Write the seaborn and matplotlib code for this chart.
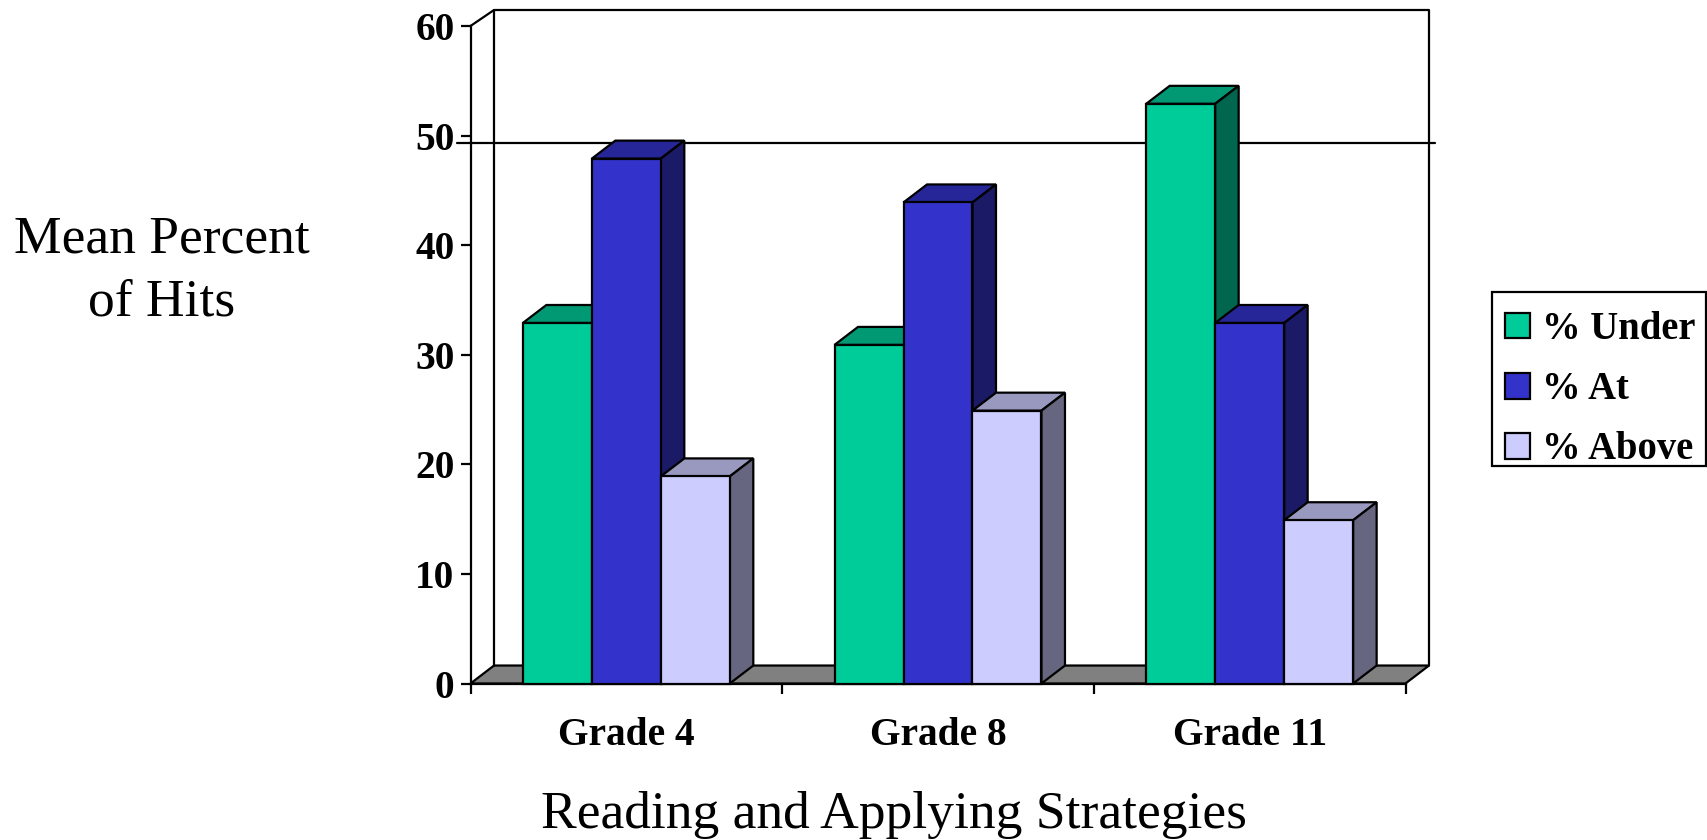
import matplotlib
matplotlib.use('Agg')
import matplotlib.pyplot as plt
from matplotlib.patches import Polygon, Rectangle
import seaborn as sns
import pandas as pd

grades = ['Grade 4', 'Grade 8', 'Grade 11']
groups = ['% Under', '% At', '% Above']
under = [32.9, 30.9, 52.9]
at = [47.9, 43.9, 32.9]
above = [18.9, 24.9, 14.9]
colors = ['#00CC99', '#3333CC', '#CCCCFF']
ref_line = 49.3

df = pd.DataFrame({
    'grade': grades * 3,
    'group': [g for g in groups for _ in grades],
    'value': under + at + above,
})

sns.set_style('ticks', rc={
    'text.color': 'black', 'axes.labelcolor': 'black', 'axes.edgecolor': 'black',
    'xtick.color': 'black', 'ytick.color': 'black',
})
plt.rcParams['font.family'] = ['Liberation Serif', 'DejaVu Serif']

LW = 1.6
# depth of the fake 3D box, in data units
DX = 0.0754
DY = 1.64
DY_TOP = 1.46


fig = plt.figure(figsize=(17.07, 8.4), dpi=100)
ax = fig.add_axes([470.5 / 1707, (840 - 683.5) / 840, 935 / 1707, 657.5 / 840])

sns.barplot(
    data=df, x='grade', y='value', hue='group', hue_order=groups,
    order=grades, palette=colors, saturation=1, width=0.664, gap=0,
    edgecolor='black', linewidth=LW, ax=ax,
)

ax.set_xlim(-0.5, 2.5)
ax.set_ylim(0, 60)

# walls and floor
x0, x1 = -0.5, 2.5
ax.add_patch(Polygon([(x0, 0), (x1, 0), (x1 + DX, DY), (x0 + DX, DY)],
                     facecolor='#808080', edgecolor='black', lw=LW,
                     clip_on=False, zorder=1))
ax.plot([x0, x0 + DX, x1 + DX, x1 + DX], [60, 60 + DY_TOP, 60 + DY_TOP, DY],
        color='black', lw=LW, clip_on=False, zorder=1)
ax.plot([x0 + DX, x0 + DX], [60 + DY_TOP, DY], color='black', lw=LW, clip_on=False, zorder=1)

ax.plot([-0.543, 2.595], [ref_line, ref_line], color='black', lw=LW, clip_on=False, zorder=1.5)

# add top and side faces to the bars, left to right so neighbours overlap right
bars = [p for p in ax.patches if isinstance(p, Rectangle) and p.get_height() > 0]
bars = sorted(bars, key=lambda p: p.get_x())
for i, bar in enumerate(bars):
    bx, bw, bh = bar.get_x(), bar.get_width(), bar.get_height()
    col = bar.get_facecolor()[:3]
    z = 3 + i
    bar.set_zorder(z + 0.5)
    bar.set_clip_on(False)
    ax.add_patch(Polygon([(bx, bh), (bx + bw, bh), (bx + bw + DX, bh + DY), (bx + DX, bh + DY)],
                         facecolor=tuple(c * 0.75 for c in col), edgecolor='black', lw=LW,
                         joinstyle='miter', clip_on=False, zorder=z))
    ax.add_patch(Polygon([(bx + bw, 0), (bx + bw + DX, DY), (bx + bw + DX, bh + DY), (bx + bw, bh)],
                         facecolor=tuple(c * 0.5 for c in col), edgecolor='black', lw=LW,
                         joinstyle='miter', clip_on=False, zorder=z))

sns.despine(ax=ax)
ax.spines['left'].set_linewidth(LW)
ax.spines['bottom'].set_linewidth(LW)

ax.set_yticks(range(0, 61, 10))
ax.tick_params(axis='y', length=7.5, width=LW, pad=4, labelsize=28.4)
ax.set_xticks([0, 1, 2], grades)
ax.set_xticks([-0.5, 0.5, 1.5, 2.5], minor=True)
ax.tick_params(axis='x', which='major', length=0, pad=24, labelsize=28.4)
ax.tick_params(axis='x', which='minor', length=7.5, width=LW)
for t in ax.get_xticklabels() + ax.get_yticklabels():
    t.set_fontweight('bold')

ax.set_xlabel('Reading and Applying Strategies', fontsize=38.5)
ax.xaxis.set_label_coords((894 - 470.5) / 935, -(815 - 683.5) / 657.5)
ax.xaxis.label.set_verticalalignment('center')
ax.set_ylabel('Mean Percent\nof Hits', fontsize=38.5, rotation=0, ha='center', va='center',
              linespacing=1.4)
ax.yaxis.set_label_coords((162 - 470.5) / 935, (683.5 - 271) / 657.5)

sns.move_legend(
    ax, loc='upper left', bbox_to_anchor=(1505 / 1707, (840 - 311) / 840),
    bbox_transform=fig.transFigure, title=None, frameon=False,
    handlelength=0.652, handleheight=0.652, handletextpad=0.3,
    labelspacing=0.6, borderpad=0, borderaxespad=0,
    prop={'weight': 'bold', 'size': 27.8},
)
ax.get_legend().set_zorder(20)

# legend box, separate because its padding differs across and down
fig.add_artist(Rectangle((1491.7 / 1707, (840 - 465.7) / 840), 214 / 1707, 173.4 / 840,
                         transform=fig.transFigure, facecolor='none', edgecolor='black', lw=LW))

fig.savefig('out.png', dpi=100)
